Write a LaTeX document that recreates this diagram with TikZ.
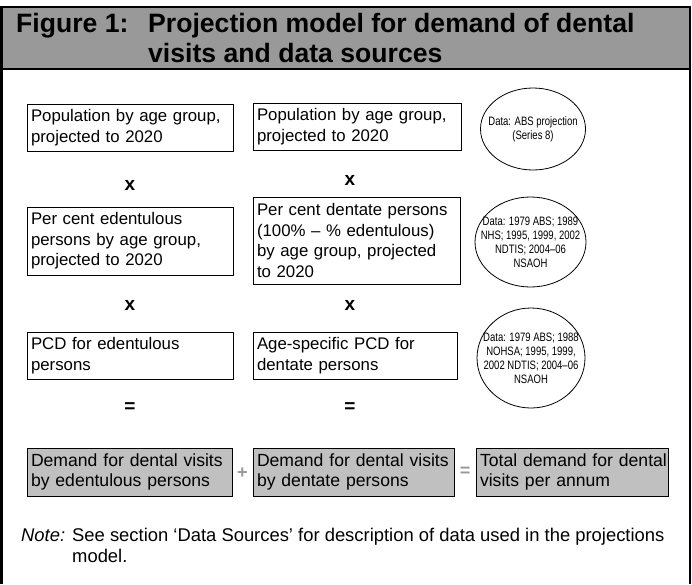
\documentclass[tikz,border=0pt]{standalone}
\usepackage{fontspec}
\setmainfont{Liberation Sans}
\newfontfamily\narrowsans[FakeStretch=0.78]{Liberation Sans}
\usetikzlibrary{shapes.geometric}
\definecolor{bandgrey}{HTML}{999999}
\definecolor{boxgrey}{HTML}{C0C0C0}
\definecolor{opgrey}{HTML}{999999}
\begin{document}
\begin{tikzpicture}[x=1pt,y=-1pt,
  box/.style={draw, line width=0.9pt, inner xsep=4pt, inner ysep=0pt, align=left,
    font=\fontsize{16.8}{20.5}\selectfont},
  dbox/.style={box, fill=boxgrey, font=\fontsize{17.6}{20.5}\selectfont},
  dataell/.style={ellipse, draw, line width=0.8pt, inner sep=0pt},
  datatext/.style={align=center, inner sep=0pt, font=\narrowsans\fontsize{12.2}{14}\selectfont},
  opsym/.style={inner sep=0pt, font=\bfseries\fontsize{19}{19}\selectfont},
  gop/.style={inner sep=0pt, text=opgrey, font=\bfseries\fontsize{18}{18}\selectfont},
  titletext/.style={anchor=base west, inner sep=0pt, font=\bfseries\fontsize{26.6}{26.6}\selectfont},
  notetext/.style={anchor=base west, inner sep=0pt, font=\fontsize{18.4}{20.5}\selectfont}
]
\useasboundingbox (0,0) rectangle (692,584);
% title band and frame
\fill[bandgrey] (3,7) rectangle (689,69);
\draw[line width=2.5pt] (1.5,7) -- (689.5,7);
\draw[line width=2.5pt] (1.5,69) -- (689.5,69);
\draw[line width=3pt] (1.5,5.75) -- (1.5,584);
\draw[line width=2pt] (689.5,5.75) -- (689.5,584);
\node[titletext] (t1) at (16,32) {Figure 1:};
\node[titletext] (t2) at (148,32) {Projection model for demand of dental};
\node[titletext] (t3) at (148,62) {visits and data sources};

% column A
\node[box, text width=198, minimum width=206, minimum height=47] (a1) at (130,127.5)
  {Population by age group,\\projected to 2020};
\node[opsym] (xa1) at (130,185) {x};
\node[box, text width=198, minimum width=206, minimum height=68] (a2) at (130,241)
  {Per cent edentulous\\persons by age group,\\projected to 2020};
\node[opsym] (xa2) at (130,305) {x};
\node[box, text width=198, minimum width=206, minimum height=47] (a3) at (130,355.5)
  {PCD for edentulous\\persons};
\node[opsym] (ea) at (130,408) {=};

% column B
\node[box, text width=200, minimum width=208, minimum height=47] (b1) at (357,126.5)
  {Population by age group,\\projected to 2020};
\node[opsym] (xb1) at (350,180) {x};
\node[box, text width=199, minimum width=207, minimum height=87] (b2) at (356.5,240.5)
  {Per cent dentate persons\\(100\% – \% edentulous)\\by age group, projected\\to 2020};
\node[opsym] (xb2) at (350,305) {x};
\node[box, text width=196, minimum width=204, minimum height=47] (b3) at (355,355.5)
  {Age-specific PCD for\\dentate persons};
\node[opsym] (eb) at (350,408) {=};

% data ellipses
\node[dataell, minimum width=105, minimum height=82] (e1) at (533,129) {};
\node[datatext] (e1t) at (e1.center) {Data: ABS projection\\(Series 8)};
\node[dataell, minimum width=111, minimum height=90] (e2) at (530.5,242) {};
\node[datatext] (e2t) at (e2.center) {Data: 1979 ABS; 1989\\NHS; 1995, 1999, 2002\\NDTIS; 2004–06\\NSAOH};
\node[dataell, minimum width=108, minimum height=100] (e3) at (531,358) {};
\node[datatext] (e3t) at (e3.center) {Data: 1979 ABS; 1988\\NOHSA; 1995, 1999,\\2002 NDTIS; 2004–06\\NSAOH};

% bottom row
\node[dbox, text width=197, minimum width=205, minimum height=48] (c1) at (129.5,472)
  {\mbox{Demand for dental visits}\\by edentulous persons};
\node[gop] (plus) at (242.5,473) {+};
\node[dbox, text width=193, minimum width=201, minimum height=48] (c2) at (353.5,472)
  {\mbox{Demand for dental visits}\\by dentate persons};
\node[gop] (eq) at (465,472) {=};
\node[dbox, text width=184, minimum width=192, minimum height=48] (c3) at (572,472)
  {\mbox{Total demand for dental}\\visits per annum};

% note
\node[notetext] (n1) at (21,541) {\itshape Note:};
\node[notetext] (n2) at (72,541) {See section ‘Data Sources’ for description of data used in the projections};
\node[notetext] (n3) at (72,562) {model.};
\end{tikzpicture}
\end{document}
